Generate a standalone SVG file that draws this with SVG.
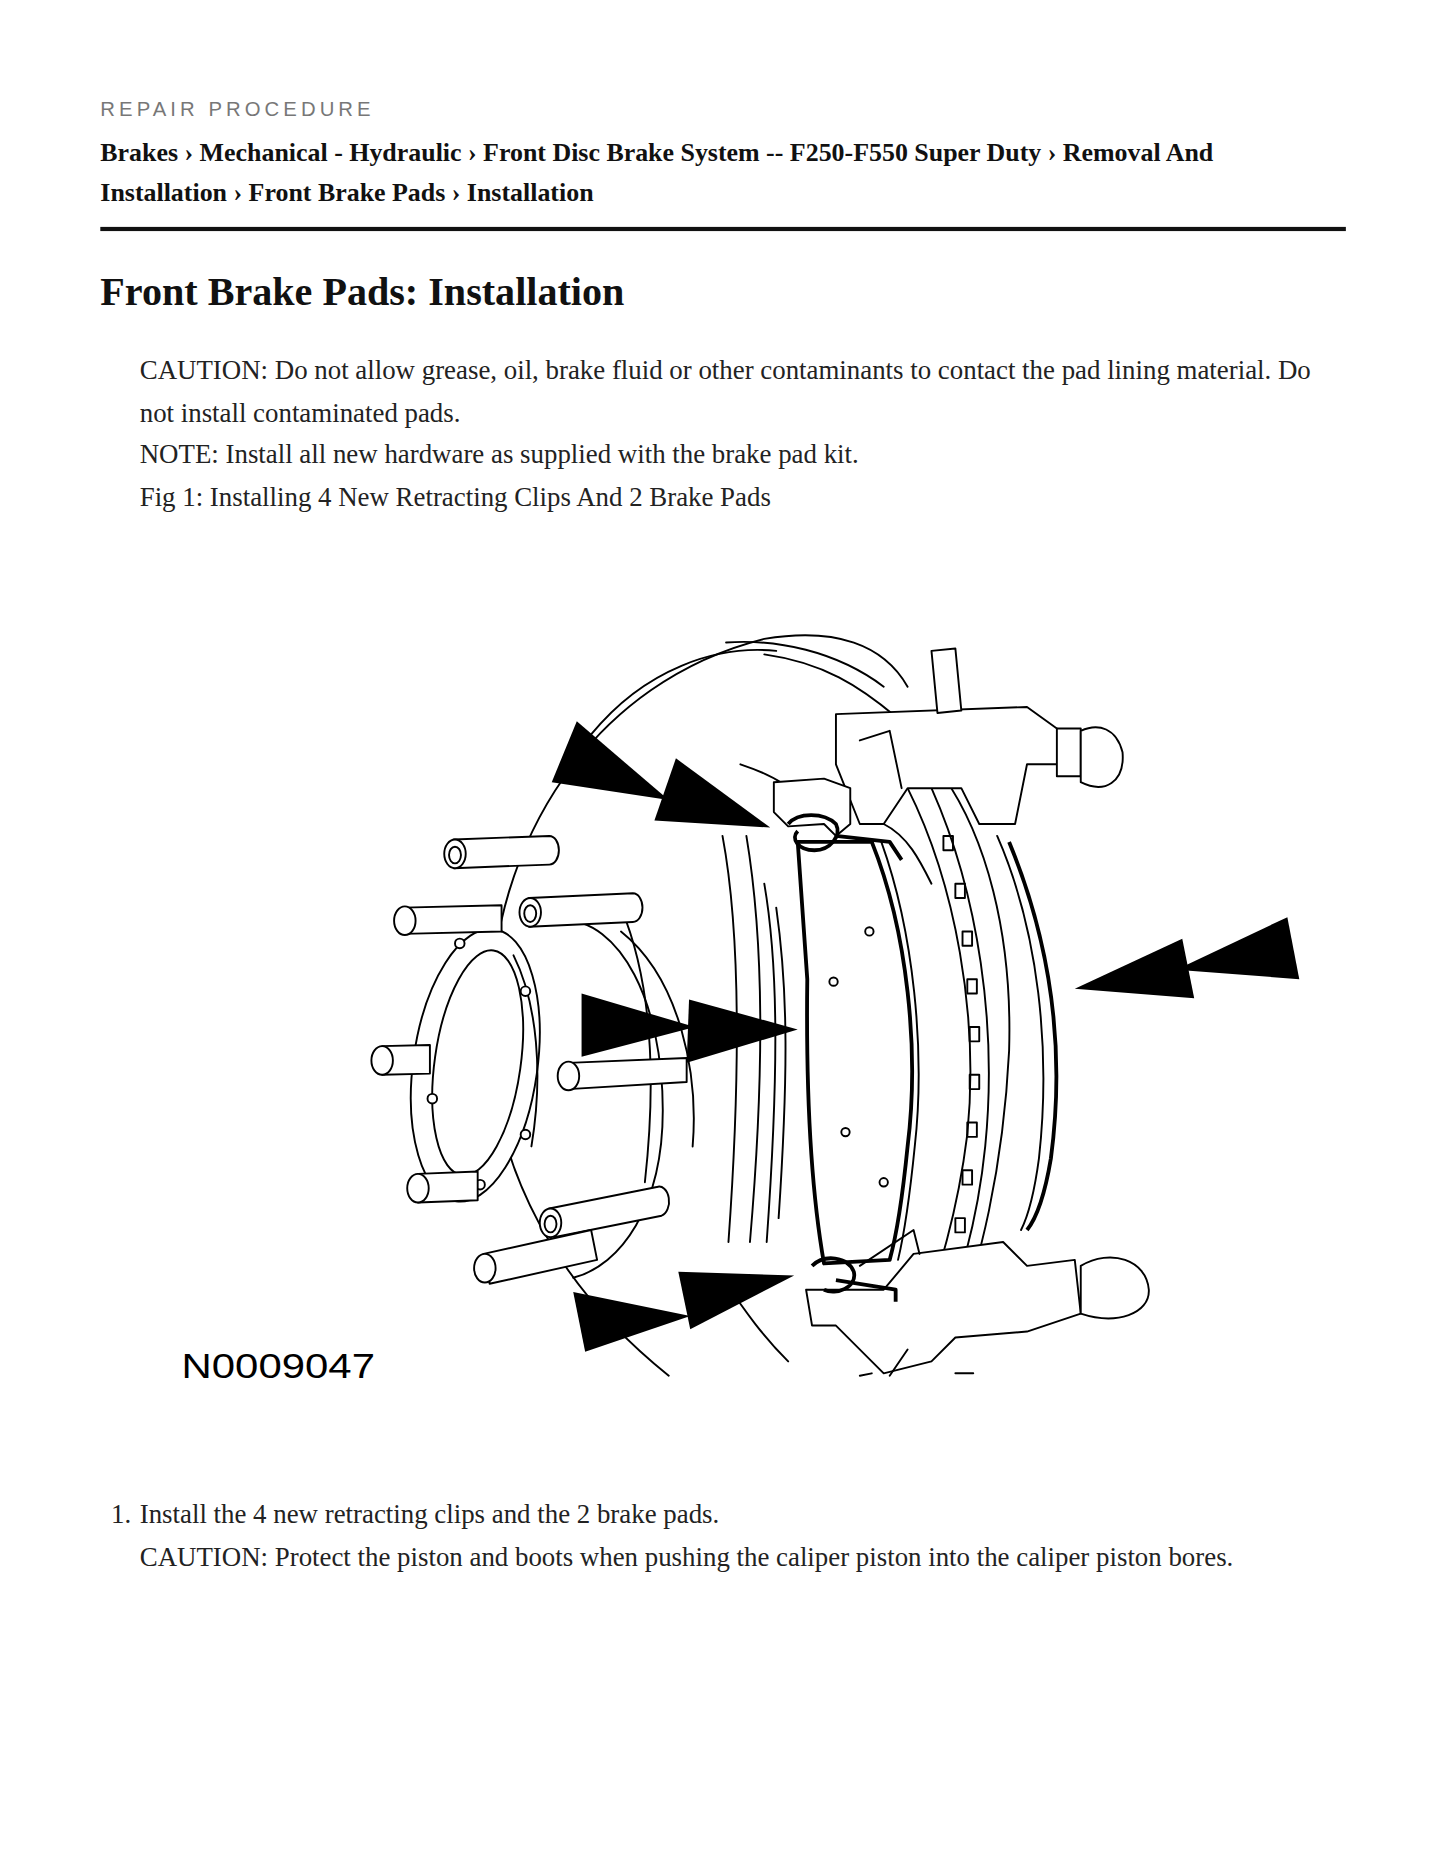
<svg xmlns="http://www.w3.org/2000/svg" width="1445" height="1870" viewBox="0 0 1445 1870">
<style>
.hd{font-family:"Liberation Sans",Arial,sans-serif;font-size:17px;letter-spacing:3.4px;fill:#777}
.bc{font-family:"Liberation Serif","Times New Roman",serif;font-size:21.7px;font-weight:bold;fill:#111}
.tt{font-family:"Liberation Serif","Times New Roman",serif;font-size:33.6px;font-weight:bold;fill:#111}
.tx{font-family:"Liberation Serif","Times New Roman",serif;font-size:22.5px;fill:#222}
.ln{fill:none;stroke:#000;stroke-width:1.6;stroke-linecap:round;stroke-linejoin:round}
.th{fill:none;stroke:#000;stroke-width:3.2;stroke-linejoin:round}
.wf{fill:#fff;stroke:#000;stroke-width:1.6;stroke-linejoin:round}
.ar{fill:#000}
.lab{font-family:"Liberation Sans",Arial,sans-serif;font-size:30px;fill:#000}
</style>
<rect width="1445" height="1870" fill="#fff"/>
<g transform="scale(1.1942)">
<g id="header">
<text class="hd" x="84" y="97">REPAIR PROCEDURE</text>
<text class="bc" x="84" y="135">Brakes › Mechanical - Hydraulic › Front Disc Brake System -- F250-F550 Super Duty › Removal And</text>
<text class="bc" x="84" y="168">Installation › Front Brake Pads › Installation</text>
<rect x="84" y="190" width="1043" height="3.5" fill="#111"/>
<text class="tt" x="84" y="255">Front Brake Pads: Installation</text>
</g>
<g id="intro">
<text class="tx" x="117" y="317">CAUTION: Do not allow grease, oil, brake fluid or other contaminants to contact the pad lining material. Do</text>
<text class="tx" x="117" y="353">not install contaminated pads.</text>
<text class="tx" x="117" y="388">NOTE: Install all new hardware as supplied with the brake pad kit.</text>
<text class="tx" x="117" y="424">Fig 1: Installing 4 New Retracting Clips And 2 Brake Pads</text>
</g>
<g id="figure">
<path class="ln" d="M560,1152 C470,1080 410,980 410,860 C410,700 500,570 640,535 C700,525 740,540 760,575"/>
<path class="ln" d="M495,615 C540,560 600,540 650,545"/>
<path class="ln" d="M608,538 C650,535 700,545 740,575"/>
<path class="ln" d="M640,548 C690,555 720,575 750,600"/>
<path class="ln" d="M620,640 C650,650 665,660 680,680"/>
<path class="ln" d="M520,760 C545,820 550,900 540,990"/>
<path class="ln" d="M605,700 C620,780 620,900 610,1040"/>
<path class="ln" d="M625,700 C640,790 640,900 628,1040"/>
<path class="ln" d="M640,740 C652,810 652,900 642,1040"/>
<path class="ln" d="M650,760 C660,830 660,900 652,1020"/>
<path class="ln" d="M605,1070 C625,1100 640,1120 660,1140"/>
<path class="ln" d="M470,770 C520,770 555,840 555,930 C555,1010 520,1060 480,1070"/>
<path class="ln" d="M520,780 C570,820 585,900 580,960"/>
<ellipse class="wf" cx="398" cy="892" rx="52" ry="115" transform="rotate(8 398 892)"/>
<ellipse class="ln" cx="400" cy="890" rx="36" ry="95" transform="rotate(8 400 890)"/>
<path class="ln" d="M430,800 C450,840 455,900 445,960"/>
<circle class="wf" cx="385" cy="790" r="4"/><circle class="wf" cx="440" cy="830" r="4"/><circle class="wf" cx="362" cy="920" r="4"/><circle class="wf" cx="440" cy="950" r="4"/><circle class="wf" cx="402" cy="992" r="4"/>
<g id="studs">
<path class="wf" d="M380,703 L460,700 A8,12 0 0 1 460,724 L380,727 Z"/><ellipse class="wf" cx="381" cy="715" rx="9" ry="12"/><ellipse class="ln" cx="381" cy="716" rx="5" ry="7"/>
<path class="wf" d="M338,760 L420,758 L420,780 L338,782 Z"/><ellipse class="wf" cx="339" cy="771" rx="9" ry="12"/>
<path class="wf" d="M443,752 L530,748 A8,12 0 0 1 530,772 L443,776 Z"/><ellipse class="wf" cx="444" cy="764" rx="9" ry="12"/><ellipse class="ln" cx="444" cy="765" rx="5" ry="7"/>
<path class="wf" d="M320,876 L360,875 L360,899 L320,900 Z"/><ellipse class="wf" cx="320" cy="888" rx="9" ry="12"/>
<path class="wf" d="M476,890 L575,886 L575,906 L476,912 Z"/><ellipse class="wf" cx="476" cy="901" rx="9" ry="12"/>
<path class="wf" d="M350,983 L400,981 L400,1005 L350,1007 Z"/><ellipse class="wf" cx="350" cy="995" rx="9" ry="12"/>
<path class="wf" d="M460,1012 L550,994 A8,12 0 0 1 554,1018 L464,1036 Z"/><ellipse class="wf" cx="461" cy="1024" rx="9" ry="12"/><ellipse class="ln" cx="461" cy="1025" rx="5" ry="7"/>
<path class="wf" d="M405,1050 L495,1030 L500,1055 L410,1075 Z"/><ellipse class="wf" cx="406" cy="1062" rx="9" ry="12"/>
</g>
<path class="wf" d="M760,660 C800,740 820,850 810,950 C800,1030 780,1080 770,1110 L800,1110 C820,1060 840,980 845,880 C848,780 825,700 790,650 Z"/>
<path class="ln" d="M780,660 C820,750 835,860 825,960 C818,1030 800,1080 790,1108"/>
<g id="vents" class="ln">
<rect x="790" y="700" width="8" height="12"/><rect x="800" y="740" width="8" height="12"/><rect x="806" y="780" width="8" height="12"/><rect x="810" y="820" width="8" height="12"/><rect x="812" y="860" width="8" height="12"/><rect x="812" y="900" width="8" height="12"/><rect x="810" y="940" width="8" height="12"/><rect x="806" y="980" width="8" height="12"/><rect x="800" y="1020" width="8" height="12"/><rect x="792" y="1060" width="8" height="12"/>
</g>
<path class="ln" d="M835,700 C870,780 880,880 870,970 C866,1000 860,1020 855,1030"/>
<path class="th" d="M845,705 C880,790 892,880 880,970 C875,1000 868,1020 860,1030"/>
<path class="wf" d="M668,705 L730,705 C760,780 770,880 760,960 C756,1000 752,1030 745,1055 L690,1058 C678,990 675,900 676,820 Z"/>
<path class="th" d="M668,705 L730,705 C760,780 770,880 760,960 C756,1000 752,1030 745,1055 L690,1058 C678,990 675,900 676,820 Z"/>
<path class="ln" d="M738,705 C765,780 775,880 766,960 C762,1000 758,1030 752,1055"/>
<circle class="wf" cx="728" cy="780" r="3.5"/><circle class="wf" cx="698" cy="822" r="3.5"/><circle class="wf" cx="708" cy="948" r="3.5"/><circle class="wf" cx="740" cy="990" r="3.5"/>
<path class="wf" d="M700,598 L860,592 L885,610 L890,640 L860,640 L850,690 L820,690 L805,660 L760,660 L740,690 L720,690 L700,640 Z"/>
<path class="ln" d="M720,620 L745,612 L755,660"/>
<path class="ln" d="M740,690 C760,700 770,720 780,740"/>
<path class="wf" d="M885,610 L905,610 L905,650 L885,650 Z"/>
<path class="wf" d="M905,612 C920,605 935,610 940,630 C942,655 925,665 905,655 Z"/>
<path class="wf" d="M780,545 L800,543 L805,595 L785,597 Z"/>
<path class="wf" d="M648,655 L690,652 L712,660 L712,690 L700,700 L690,690 L660,692 L648,680 Z"/>
<path class="th" d="M660,690 C668,680 690,680 700,690 C705,700 695,712 682,712 C668,712 662,702 668,696"/>
<path class="th" d="M700,700 L745,705 L755,720"/>
<path class="wf" d="M675,1080 L740,1080 L765,1050 L840,1040 L860,1060 L900,1055 L905,1100 L860,1115 L800,1120 L780,1140 L740,1150 L700,1110 L680,1110 Z"/>
<path class="wf" d="M905,1060 C930,1045 960,1055 962,1080 C963,1100 935,1110 905,1100 Z"/>
<path class="th" d="M680,1060 C690,1050 710,1052 715,1065 C718,1078 700,1085 690,1080 M700,1072 L750,1080 L750,1090"/>
<path class="ln" d="M720,1060 L765,1030 L770,1050"/>
<path class="ln" d="M730,1150 L720,1152 M760,1130 L745,1152 M800,1150 L815,1150"/>
<g id="arrows" class="ar">
<polygon points="483,604 462,655 560,670"/><polygon points="566,635 548,687 645,693"/>
<polygon points="487,832 487,885 582,860"/><polygon points="577,837 575,890 668,862"/>
<polygon points="1078,768 1088,820 985,812"/><polygon points="990,786 1000,836 900,828"/>
<polygon points="480,1082 490,1132 578,1102"/><polygon points="568,1065 578,1113 665,1068"/>
</g>
<text class="lab" x="152" y="1154" textLength="162" lengthAdjust="spacingAndGlyphs">N0009047</text>
</g>
<g id="steps">
<text class="tx" x="93" y="1275">1.</text>
<text class="tx" x="117" y="1275">Install the 4 new retracting clips and the 2 brake pads.</text>
<text class="tx" x="117" y="1311">CAUTION: Protect the piston and boots when pushing the caliper piston into the caliper piston bores.</text>
</g>
</g>
</svg>
